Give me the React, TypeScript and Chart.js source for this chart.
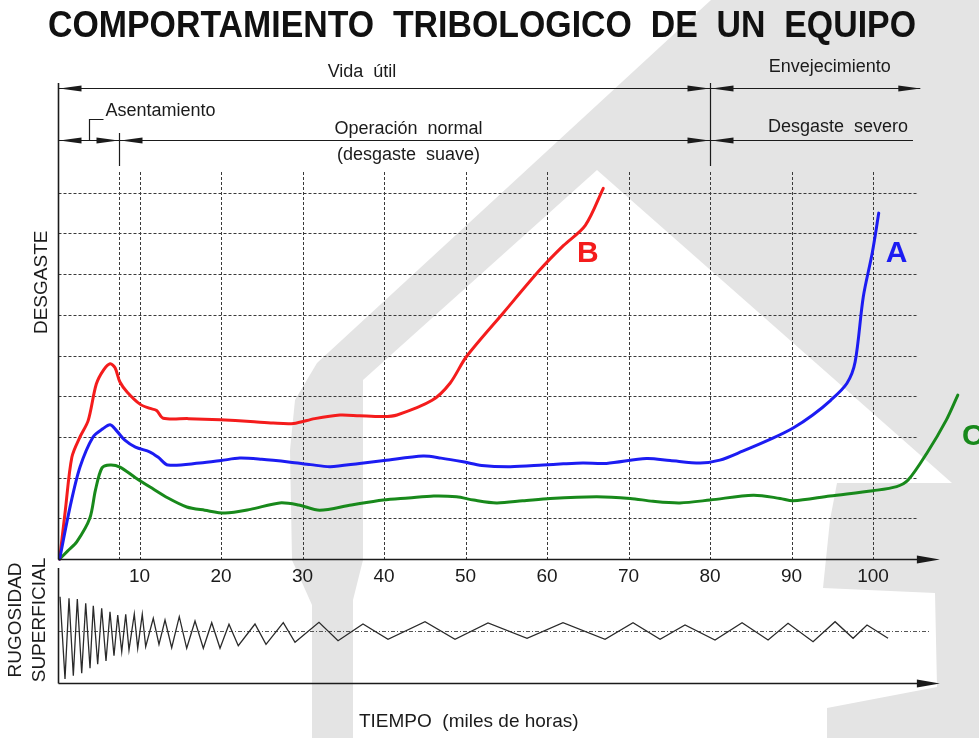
import React, { useEffect, useRef } from "react";
import { Chart, registerables } from "chart.js";

Chart.register(...registerables);

// ---------------- data ----------------
const xTickValues = [10, 20, 30, 40, 50, 60, 70, 80, 90, 100];
const xTickLabels = ["10", "20", "30", "40", "50", "60", "70", "80", "90", "100"];
const wearGridValues = [1, 2, 3, 4, 5, 6, 7, 8, 9];
const runInEnd = 7.5;
const usefulLifeEnd = 80;
const agingArrowEnd = 105.8;
const severeLineEnd = 104.9;
const gridEnd = 105.5;
const axisEnd = 108.2;
const roughRefEnd = 107;
const runInBracketX = 3.8;

// Curve A (blue)
const curveA_x = [0.2, 1.5, 2.7, 4.3, 5.5, 6.4, 7.2, 8.2, 9.5, 11.3, 12.3, 13.5, 17.4, 20, 22.3, 25, 28.5, 31, 33.4, 37, 40, 44.8, 47, 49.7, 52, 55.5, 59.5, 62, 64.4, 67.3, 72.2, 75.1, 78.8, 81.2, 84, 87.7, 90.2, 92.6, 94.8, 96.8, 97.8, 98.8, 99.9, 100.7];
const curveA_y = [0, 1.3, 2.26, 3.0, 3.2, 3.3, 3.15, 2.92, 2.75, 2.63, 2.5, 2.31, 2.36, 2.42, 2.48, 2.45, 2.38, 2.32, 2.27, 2.35, 2.42, 2.53, 2.48, 2.39, 2.3, 2.27, 2.31, 2.34, 2.36, 2.35, 2.47, 2.42, 2.36, 2.43, 2.65, 2.97, 3.22, 3.54, 3.9, 4.32, 4.84, 6.44, 7.52, 8.5];

// Curve B (red)
const curveB_x = [0.2, 0.9, 1.7, 2.7, 3.7, 4.7, 5.6, 6.4, 7.0, 7.6, 8.5, 10.1, 11.3, 12.1, 12.9, 16, 19.9, 23.6, 26.4, 28.9, 31.5, 34.6, 37, 39.9, 41.6, 45.9, 48.1, 50.1, 54.6, 59.1, 62, 64.7, 66.9];
const curveB_y = [0, 1.2, 2.5, 3.0, 3.4, 4.3, 4.65, 4.8, 4.7, 4.35, 4.1, 3.8, 3.7, 3.65, 3.46, 3.45, 3.42, 3.38, 3.34, 3.33, 3.45, 3.54, 3.52, 3.5, 3.54, 3.9, 4.32, 4.97, 6.04, 7.1, 7.7, 8.2, 9.11];

// Curve C (green)
const curveC_x = [0.2, 1.2, 2.3, 3.9, 4.6, 5.4, 6.4, 7.6, 9.5, 11.3, 13.5, 15.8, 18, 20.5, 23.6, 27.2, 29.5, 32.1, 36, 39.9, 43, 46.1, 48.9, 51, 53.8, 57, 60.4, 66.1, 70.2, 73, 76.3, 80, 85.3, 88.6, 90.2, 94.7, 100, 102.9, 104.3, 106.6, 109, 110.4];
const curveC_y = [0, 0.2, 0.42, 1.0, 1.7, 2.24, 2.31, 2.26, 2.0, 1.77, 1.5, 1.28, 1.2, 1.13, 1.22, 1.38, 1.33, 1.2, 1.33, 1.45, 1.5, 1.55, 1.53, 1.45, 1.38, 1.43, 1.49, 1.53, 1.49, 1.42, 1.38, 1.45, 1.57, 1.49, 1.43, 1.55, 1.68, 1.78, 1.94, 2.6, 3.42, 4.03];

// Surface roughness trace
const rough_x = [0.25, 0.86, 1.35, 1.88, 2.37, 2.91, 3.4, 3.93, 4.33, 4.87, 5.36, 5.89, 6.38, 6.87, 7.33, 7.82, 8.31, 8.71, 9.36, 9.78, 10.34, 10.76, 11.69, 12.39, 13.13, 13.95, 14.88, 15.79, 16.81, 17.83, 18.86, 19.88, 20.98, 22.12, 24.17, 25.52, 27.64, 29.08, 32.02, 34.36, 37.42, 40.49, 45.03, 48.71, 52.76, 57.55, 61.96, 67.12, 70.55, 73.87, 76.93, 80.61, 83.93, 87.12, 89.57, 92.64, 95.34, 97.55, 99.26, 101.84];
const rough_y = [3.43, -4.8, 3.27, -4.47, 3.2, -4.23, 2.77, -3.73, 2.53, -3.33, 2.27, -3.0, 1.93, -2.47, 1.6, -2.07, 1.67, -1.9, 1.7, -1.73, 1.67, -1.57, 1.27, -1.33, 1.1, -1.67, 1.43, -1.73, 1.0, -1.73, 0.83, -1.73, 0.67, -1.47, 0.7, -1.33, 0.83, -1.13, 0.87, -0.97, 0.7, -0.83, 0.93, -0.83, 0.8, -0.73, 0.83, -0.83, 0.83, -0.83, 0.6, -0.9, 0.83, -0.9, 0.77, -1.07, 0.93, -0.73, 0.6, -0.73];
const roughPanelTop = 6.3;
const roughPanelBottom = -5.2;

const curveLabels = ["A", "B", "C"];
const curveLabelX = [102.9, 65.0, 110.9];
const curveLabelY = [7.5, 7.5, 3.0];

// ---------------- styling ----------------
const FONT = '"Liberation Sans", Arial, Helvetica, sans-serif';
const INK = "#1b1b1b";
const RED = "#f41c1c";
const BLUE = "#1c1cf2";
const GREEN = "#18891b";
const WATERMARK = "#e4e4e4";
const curveColors = [BLUE, RED, GREEN];

const watermarkShape: [number, number][] = [
  [711, 0], [979, 0], [979, 738], [827, 738], [827, 708], [937, 687], [935, 593],
  [823, 588], [830, 520], [837, 483], [952, 483], [597, 170], [363, 380], [363, 560],
  [353, 600], [353, 738], [312, 738], [312, 605], [292, 560], [290, 450], [295, 400], [317, 363],
];

const pts = (xs: number[], ys: number[]) => xs.map((x, i) => ({ x, y: ys[i] }));

function arrowHead(ctx: CanvasRenderingContext2D, tipX: number, y: number, dir: number, len = 22, half = 3) {
  ctx.beginPath();
  ctx.moveTo(tipX, y);
  ctx.lineTo(tipX - dir * len, y - half);
  ctx.lineTo(tipX - dir * len, y + half);
  ctx.closePath();
  ctx.fill();
}

function hLine(ctx: CanvasRenderingContext2D, x1: number, x2: number, y: number) {
  ctx.beginPath();
  ctx.moveTo(x1, y);
  ctx.lineTo(x2, y);
  ctx.stroke();
}
function vLine(ctx: CanvasRenderingContext2D, x: number, y1: number, y2: number) {
  ctx.beginPath();
  ctx.moveTo(x, y1);
  ctx.lineTo(x, y2);
  ctx.stroke();
}

const backgroundPlugin = {
  id: "bgWatermark",
  beforeDraw(chart: any) {
    const ctx: CanvasRenderingContext2D = chart.ctx;
    ctx.save();
    ctx.fillStyle = "#ffffff";
    ctx.fillRect(0, 0, chart.width, chart.height);
    ctx.fillStyle = WATERMARK;
    ctx.beginPath();
    watermarkShape.forEach(([px, py], i) => (i === 0 ? ctx.moveTo(px, py) : ctx.lineTo(px, py)));
    ctx.closePath();
    ctx.fill();
    ctx.restore();
  },
};

const gridPlugin = {
  id: "dottedGrid",
  beforeDatasetsDraw(chart: any) {
    const ctx: CanvasRenderingContext2D = chart.ctx;
    const X = (v: number) => chart.scales.x.getPixelForValue(v);
    const Y = (v: number) => chart.scales.y.getPixelForValue(v);
    const Y2 = (v: number) => chart.scales.y2.getPixelForValue(v);
    const top = chart.chartArea.top;
    ctx.save();
    ctx.strokeStyle = "#3a3a3a";
    ctx.lineWidth = 1;
    ctx.setLineDash([3, 2]);
    wearGridValues.forEach((v) => hLine(ctx, Math.round(X(0)) + 0.5, X(gridEnd), Math.round(Y(v)) + 0.5));
    [runInEnd, ...xTickValues].forEach((v) => vLine(ctx, Math.round(X(v)) + 0.5, top, Y(0)));
    ctx.strokeStyle = "#555";
    ctx.setLineDash([4, 2, 1, 2]);
    hLine(ctx, X(0), X(roughRefEnd), Math.round(Y2(0)) + 0.5);
    ctx.restore();
  },
};

const overlayPlugin = {
  id: "overlay",
  afterDatasetsDraw(chart: any) {
    const ctx: CanvasRenderingContext2D = chart.ctx;
    const X = (v: number) => chart.scales.x.getPixelForValue(v);
    const Y = (v: number) => chart.scales.y.getPixelForValue(v);
    const Y2 = (v: number) => chart.scales.y2.getPixelForValue(v);
    const x0 = Math.round(X(0)) + 0.5;
    ctx.save();
    ctx.strokeStyle = INK;
    ctx.fillStyle = INK;
    ctx.setLineDash([]);

    // --- axes ---
    ctx.lineWidth = 1.6;
    const yAxis0 = Math.round(Y(0)) + 0.5;
    vLine(ctx, x0, 83, yAxis0);
    hLine(ctx, x0, X(axisEnd) - 10, yAxis0);
    arrowHead(ctx, X(axisEnd), yAxis0, 1, 23, 4);
    const rTop = Y2(roughPanelTop);
    const rBot = Math.round(Y2(roughPanelBottom)) + 0.5;
    vLine(ctx, x0, rTop, rBot);
    hLine(ctx, x0, X(axisEnd) - 10, rBot);
    arrowHead(ctx, X(axisEnd), rBot, 1, 23, 4);

    // --- tick labels ---
    ctx.font = `19px ${FONT}`;
    ctx.textAlign = "center";
    ctx.textBaseline = "middle";
    xTickValues.forEach((v, i) => ctx.fillText(xTickLabels[i], X(v), Y(0) + 18));

    // --- phase annotation ---
    ctx.lineWidth = 1.2;
    const row1 = 88.5;
    const row2 = 140.5;
    const xR = Math.round(X(runInEnd)) + 0.5;
    const xU = Math.round(X(usefulLifeEnd)) + 0.5;
    hLine(ctx, x0, X(agingArrowEnd), row1);
    arrowHead(ctx, x0 + 1, row1, -1);
    arrowHead(ctx, xU - 1, row1, 1);
    arrowHead(ctx, xU + 1, row1, -1);
    arrowHead(ctx, X(agingArrowEnd), row1, 1);
    vLine(ctx, xU, 83, 166);

    hLine(ctx, x0, X(severeLineEnd), row2);
    arrowHead(ctx, x0 + 1, row2, -1);
    arrowHead(ctx, xR - 1, row2, 1);
    arrowHead(ctx, xR + 1, row2, -1);
    arrowHead(ctx, xU - 1, row2, 1);
    arrowHead(ctx, xU + 1, row2, -1);
    vLine(ctx, xR, 133, 166);
    const xb = Math.round(X(runInBracketX)) + 0.5;
    ctx.beginPath();
    ctx.moveTo(xb, row2);
    ctx.lineTo(xb, 119.5);
    ctx.lineTo(xb + 14, 119.5);
    ctx.stroke();

    ctx.font = `18px ${FONT}`;
    ctx.textAlign = "center";
    ctx.fillText("Vida  útil", X(37.3), 72);
    ctx.fillText("Envejecimiento", X(94.7), 67);
    ctx.fillText("Operación  normal", X(43), 129);
    ctx.fillText("(desgaste  suave)", X(43), 155);
    ctx.fillText("Desgaste  severo", X(95.7), 127);
    ctx.textAlign = "left";
    ctx.fillText("Asentamiento", xb + 16, 111);

    // --- axis titles ---
    ctx.textAlign = "center";
    ctx.font = `19px ${FONT}`;
    ctx.fillText("TIEMPO  (miles de horas)", X(50.4), 722);
    const vText = (t: string, cx: number, cy: number) => {
      ctx.save();
      ctx.translate(cx, cy);
      ctx.rotate(-Math.PI / 2);
      ctx.fillText(t, 0, 0);
      ctx.restore();
    };
    ctx.font = `19px ${FONT}`;
    vText("DESGASTE", 42, Y(6.8));
    vText("RUGOSIDAD", 16, Y2(1.1));
    vText("SUPERFICIAL", 40, Y2(1.1));

    // --- curve labels ---
    ctx.font = `bold 30px ${FONT}`;
    curveLabels.forEach((t, i) => {
      ctx.fillStyle = curveColors[i];
      ctx.textAlign = t === "C" ? "left" : "center";
      ctx.fillText(t, X(curveLabelX[i]), Y(curveLabelY[i]));
    });

    // --- title ---
    ctx.fillStyle = "#111";
    ctx.font = `bold 36px ${FONT}`;
    const title = "COMPORTAMIENTO  TRIBOLOGICO  DE  UN  EQUIPO";
    const w = ctx.measureText(title).width;
    ctx.save();
    ctx.translate(482, 37);
    ctx.scale(868 / w, 1);
    ctx.textAlign = "center";
    ctx.textBaseline = "alphabetic";
    ctx.fillText(title, 0, 0);
    ctx.restore();

    ctx.restore();
  },
};

export default function App() {
  const ref = useRef<HTMLCanvasElement | null>(null);
  useEffect(() => {
    document.body.style.margin = "0";
    const curveStyle = {
      borderWidth: 3,
      pointRadius: 0,
      tension: 0.3,
      borderCapStyle: "round" as const,
      borderJoinStyle: "round" as const,
      fill: false,
      clip: false as any,
      yAxisID: "y",
    };
    const chart = new Chart(ref.current as HTMLCanvasElement, {
      type: "line",
      data: {
        datasets: [
          { ...curveStyle, label: "A", data: pts(curveA_x, curveA_y), borderColor: BLUE },
          { ...curveStyle, label: "B", data: pts(curveB_x, curveB_y), borderColor: RED },
          { ...curveStyle, label: "C", data: pts(curveC_x, curveC_y), borderColor: GREEN },
          {
            label: "Rugosidad",
            data: pts(rough_x, rough_y),
            borderColor: "#2a2a2a",
            borderWidth: 1.3,
            pointRadius: 0,
            tension: 0,
            fill: false,
            yAxisID: "y2",
          },
        ],
      },
      options: {
        animation: false,
        responsive: false,
        devicePixelRatio: 1,
        layout: { padding: { left: 58, right: 0, top: 172, bottom: 54 } },
        plugins: { legend: { display: false }, tooltip: { enabled: false }, title: { display: false } },
        scales: {
          x: { type: "linear", min: 0, max: 113, display: false },
          y: { type: "linear", min: -3.07, max: 9.51, display: false },
          y2: { type: "linear", min: -5.3, max: 45.9, display: false },
        },
      },
      plugins: [backgroundPlugin, gridPlugin, overlayPlugin],
    } as any);
    return () => chart.destroy();
  }, []);
  return (
    <div style={{ width: 979, height: 738, position: "relative" }}>
      <canvas ref={ref} width={979} height={738} style={{ display: "block", width: 979, height: 738 }} />
    </div>
  );
}
